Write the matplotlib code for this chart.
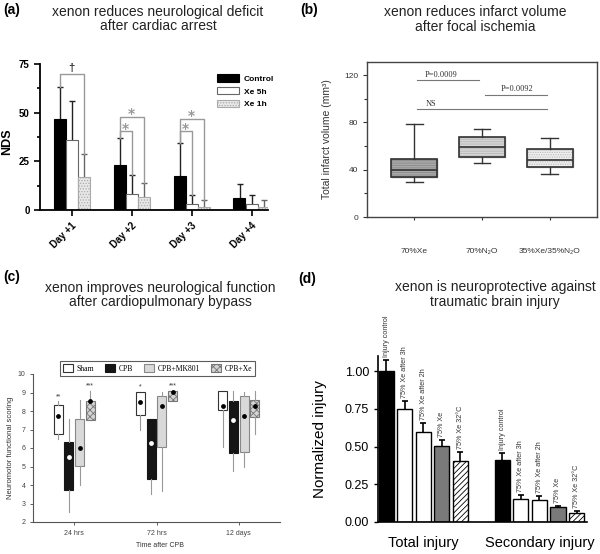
import numpy as np
import matplotlib
matplotlib.use('Agg')
import matplotlib.pyplot as plt
from matplotlib.patches import Patch, PathPatch

plt.rcParams['font.family'] = ['Liberation Sans', 'DejaVu Sans']
plt.rcParams['hatch.linewidth'] = 0.6

# (a) neurological deficit score after cardiac arrest
days = ['Day +1', 'Day +2', 'Day +3', 'Day +4']
nds_control = [47, 23, 17.5, 6]
nds_control_err = [16, 14, 17, 7.5]
nds_xe5h = [36, 8, 3, 3]
nds_xe5h_err = [20, 10, 4.5, 4.5]
nds_xe1h = [17, 6.5, 1.5, 1.5]
nds_xe1h_err = [12, 7.5, 3.5, 3.5]
# (day, series a, series b, bracket height, symbol)
nds_brackets = [(0, 0, 2, 70, '†'), (1, 0, 2, 48, '*'), (1, 0, 1, 40.5, '*'),
                (2, 0, 2, 47, '*'), (2, 0, 1, 40.5, '*')]

# (b) infarct volume after focal ischemia
gases = ['70%Xe', '70%N₂O', '35%Xe/35%N₂O']
infarct_low = [30, 46, 36]
infarct_q1 = [33.5, 51, 42]
infarct_med = [40, 59, 48]
infarct_q3 = [49, 68, 57.5]
infarct_high = [79, 74.5, 67]
infarct_pvals = [(0, 1, 116, 'P=0.0009', 0.4), (1, 2, 103.5, 'P=0.0092', 1.52), (0, 2, 91, 'NS', 0.24)]

# (c) neuromotor scoring after CPB, rows = time points, cols = groups
times = ['24 hrs', '72 hrs', '12 days']
cpb_groups = ['Sham', 'CPB', 'CPB+MK801', 'CPB+Xe']
score_whislo = [[6.5, 2.55, 4.0, 7.5], [7.0, 3.5, 3.7, 8.55], [6.05, 4.75, 5.0, 6.75]]
score_q1 = [[6.75, 3.75, 5.05, 7.5], [7.8, 4.3, 6.05, 8.55], [8.05, 5.75, 5.78, 7.65]]
score_q3 = [[8.3, 6.3, 7.55, 8.55], [9.05, 7.55, 8.8, 9.1], [9.1, 8.55, 8.8, 8.6]]
score_whishi = [[8.55, 7.55, 8.6, 9.1], [9.05, 7.55, 9.05, 9.1], [9.1, 9.1, 9.05, 9.1]]
score_mean = [[7.75, 5.5, 6.0, 8.55], [8.5, 6.25, 8.25, 9.05], [8.25, 7.5, 7.75, 8.25]]
score_stars = [['**', '', '', '***'], ['*', '', '', '***'], ['', '', '', '']]

# (d) traumatic brain injury
injury_groups = ['Total injury', 'Secondary injury']
treatments = ['Injury control', '75% Xe after 3h', '75% Xe after 2h', '75% Xe', '75% Xe 32°C']
total_injury = [1.00, 0.75, 0.597, 0.503, 0.405]
total_err = [0.073, 0.05, 0.06, 0.043, 0.06]
secondary_injury = [0.412, 0.155, 0.143, 0.098, 0.062]
secondary_err = [0.046, 0.026, 0.026, 0.01, 0.012]


def px(x, y):
    return x / 600, 1 - y / 554


def upper_errorbar(ax, xs, ys, errs, color='black', lw=1, cap=2.5):
    cont = ax.errorbar(xs, ys, yerr=[np.zeros(len(errs)), errs], fmt='none',
                       ecolor=color, elinewidth=lw, capsize=cap, capthick=lw, zorder=1)
    for cl in cont[1]:
        if np.allclose(cl.get_ydata(), ys):
            cl.set_visible(False)


fig = plt.figure(figsize=(6, 5.54), dpi=100)

# ---------- (a)
ax = fig.add_axes([40 / 600, 1 - 210 / 554, 228 / 600, 146 / 554])
x = np.arange(len(days))
w = 0.2
series = [(nds_control, nds_control_err, 'black', 'black', None),
          (nds_xe5h, nds_xe5h_err, 'white', '#666666', None),
          (nds_xe1h, nds_xe1h_err, '#e8e8e8', '#aaaaaa', '......')]
for i, (vals, errs, fc, ec, hatch) in enumerate(series):
    pos = x + (i - 1) * w
    ax.bar(pos, vals, w, color=fc, edgecolor=ec, hatch=hatch, linewidth=0.8, zorder=2)
    upper_errorbar(ax, pos, vals, errs, color='#222222' if i < 2 else '#666666')
tops = [np.add(nds_control, nds_control_err), np.add(nds_xe5h, nds_xe5h_err), np.add(nds_xe1h, nds_xe1h_err)]
for day, a, b, h, sym in nds_brackets:
    xa = day + (a - 1) * w
    xb = day + (b - 1) * w
    ax.plot([xa, xa, xb, xb], [tops[a][day], h, h, tops[b][day]], color='#999999', lw=1, zorder=3)
    if sym == '†':
        ax.text((xa + xb) / 2, h + 0.5, sym, ha='center', va='bottom', fontsize=8, color='#333333',
                fontweight='bold')
    else:
        ax.text((xa + xb) / 2, h - 2.5, sym, ha='center', va='bottom', fontsize=10, color='#999999',
                family='DejaVu Sans', fontweight='bold')
ax.set_xlim(-0.525, 3.275)
ax.set_ylim(0, 75)
ax.set_yticks([0, 25, 50, 75])
ax.set_yticks([12.5, 37.5, 62.5], minor=True)
ax.set_xticks(x, days, rotation=45, ha='right', rotation_mode='anchor')
for lab in ax.get_xticklabels() + ax.get_yticklabels():
    lab.set_fontweight('bold')
    lab.set_fontsize(7)
ax.tick_params(width=1.2, length=4)
ax.tick_params(which='minor', width=1.2, length=2.5)
for s in ['top', 'right']:
    ax.spines[s].set_visible(False)
for s in ['left', 'bottom']:
    ax.spines[s].set_linewidth(1.3)
ax.set_ylabel('NDS', fontsize=9, fontweight='bold')
ax.yaxis.set_label_coords(-0.118, 0.47)
handles = [Patch(facecolor=fc, edgecolor=ec, hatch=h, linewidth=0.8) for _, _, fc, ec, h in series]
ax.legend(handles, ['Control', 'Xe 5h', 'Xe 1h'], loc='upper left', bbox_to_anchor=px(213, 70),
          bbox_transform=fig.transFigure, frameon=False, prop=dict(weight='bold', size=6),
          handlelength=2.6, handleheight=1.0, labelspacing=0.5, borderpad=0, handletextpad=0.6)

# ---------- (b)
ax = fig.add_axes([367 / 600, 1 - 217 / 554, 230 / 600, 155 / 554])
stats = [dict(whislo=lo, q1=q1, med=m, q3=q3, whishi=hi, label=g)
         for g, lo, q1, m, q3, hi in zip(gases, infarct_low, infarct_q1, infarct_med, infarct_q3, infarct_high)]
bp = ax.bxp(stats, positions=range(3), widths=0.68, patch_artist=True, showfliers=False,
            capwidths=0.25, whiskerprops=dict(color='#333333', lw=1), capprops=dict(color='#333333', lw=1),
            medianprops=dict(color='#333333', lw=1.2))
fills = [('#a9a9a9', '#8a8a8a', '-------'), ('#d6d6d6', '#b8b8b8', '-------'), ('#eeeeee', '#bbbbbb', '.......')]
for box, (fc, hc, hatch) in zip(bp['boxes'], fills):
    box.set_facecolor(fc)
    box.set_edgecolor(hc)
    box.set_hatch(hatch)
    ax.add_patch(PathPatch(box.get_path(), transform=box.get_transform(), fill=False,
                           edgecolor='#333333', lw=1.2, zorder=box.get_zorder() + 0.1))
for i, j, h, txt, tx in infarct_pvals:
    ax.plot([i + 0.04, j - 0.04], [h, h], color='#777777', lw=0.8)
    ax.text(tx, h + 1, txt, ha='center', va='bottom', fontsize=6, family='Liberation Serif', color='#333333')
ax.set_xlim(-0.7, 2.7)
ax.set_ylim(0, 131)
ax.set_yticks([0, 40, 80, 120])
ax.set_yticks([20, 60, 100], minor=True)
ax.set_xticks(range(3), gases)
ax.tick_params(labelsize=6, length=3, width=0.8, colors='#333333')
ax.tick_params(axis='x', length=2, pad=20)
ax.tick_params(which='minor', length=2, width=0.8, colors='#333333')
for s in ax.spines.values():
    s.set_color('#444444')
    s.set_linewidth(1)
ax.set_ylabel('Total infarct volume (mm³)', fontsize=7.5, color='#333333')
ax.yaxis.set_label_coords(-0.152, 0.5)

# ---------- (c)
ax = fig.add_axes([33 / 600, 1 - 522 / 554, 247 / 600, 148 / 554])
offsets = [-0.195, -0.065, 0.065, 0.195]
styles = [('white', '#333333', None), ('#151515', '#151515', None),
          ('#d9d9d9', '#888888', None), ('#d4d4d4', '#777777', 'xxxxx')]
dot_colors = ['black', 'white', 'black', 'black']
t = np.arange(len(times))
for g, (fc, ec, hatch) in enumerate(styles):
    st = [dict(whislo=score_whislo[k][g], q1=score_q1[k][g], med=score_q1[k][g],
               q3=score_q3[k][g], whishi=score_whishi[k][g]) for k in range(len(times))]
    bp = ax.bxp(st, positions=t + offsets[g], widths=0.11, patch_artist=True, showfliers=False,
                showcaps=False, whiskerprops=dict(color='#999999', lw=0.8),
                medianprops=dict(linewidth=0), manage_ticks=False)
    for box in bp['boxes']:
        box.set_facecolor(fc)
        box.set_edgecolor(ec)
        box.set_linewidth(0.8)
        if hatch:
            box.set_hatch(hatch)
    ax.scatter(t + offsets[g], [score_mean[k][g] for k in range(len(times))], s=12,
               color=dot_colors[g], zorder=5, linewidths=0)
    for k in range(len(times)):
        if score_stars[k][g]:
            ax.text(t[k] + offsets[g], score_whishi[k][g] + 0.05, score_stars[k][g], ha='center',
                    va='bottom', fontsize=5, color='#333333')
ax.set_xlim(-0.5, 2.5)
ax.set_ylim(2, 10)
ax.set_yticks(range(2, 11))
ax.set_xticks(t, times)
ax.tick_params(labelsize=5, length=2, width=0.6, colors='#444444')
for s in ['top', 'right']:
    ax.spines[s].set_visible(False)
for s in ['left', 'bottom']:
    ax.spines[s].set_color('#555555')
    ax.spines[s].set_linewidth(0.8)
ax.set_ylabel('Neuromotor functional scoring', fontsize=5.5, color='#333333')
ax.yaxis.set_label_coords(-0.075, 0.5)
ax.set_xlabel('Time after CPB', fontsize=5, color='#333333')
ax.xaxis.set_label_coords(0.514, -0.135)
handles = [Patch(facecolor=fc, edgecolor=ec, hatch=h, linewidth=0.8) for fc, ec, h in styles]
leg = ax.legend(handles, cpb_groups, ncol=4, loc='center', bbox_to_anchor=px(157.5, 368.5),
                bbox_transform=fig.transFigure, fancybox=False, edgecolor='#333333',
                prop=dict(family='Liberation Serif', size=5.5), handlelength=1.3, handleheight=1.3,
                columnspacing=1.4, handletextpad=0.5, borderpad=0.35)
leg.get_frame().set_linewidth(0.8)

# ---------- (d)
ax = fig.add_axes([378 / 600, 1 - 522 / 554, 209 / 600, 166 / 554])
xg = np.arange(len(injury_groups))
bw = 0.13
fills_d = [('black', None), ('white', None), ('white', None), ('#7a7a7a', None), ('white', '//////')]
for i, (fc, hatch) in enumerate(fills_d):
    pos = xg + (i - 2) * 0.16
    vals = [total_injury[i], secondary_injury[i]]
    errs = [total_err[i], secondary_err[i]]
    ax.bar(pos, vals, bw, color=fc, edgecolor='black', hatch=hatch, linewidth=1, zorder=2)
    upper_errorbar(ax, pos, vals, errs, color='black', lw=1.2, cap=2.5)
    for p, v, e in zip(pos, vals, errs):
        ax.text(p, v + e + 0.02, treatments[i], rotation=90, ha='center', va='bottom', fontsize=5.2,
                color='#333333', clip_on=False)
ax.set_xlim(-0.39, 1.41)
ax.set_ylim(0, 1.1)
ax.set_yticks(np.arange(0, 1.01, 0.25))
ax.yaxis.set_major_formatter('{x:.2f}')
ax.set_xticks(xg, injury_groups)
ax.tick_params(axis='y', labelsize=9, length=3, width=1)
ax.tick_params(axis='x', labelsize=10.5, length=0, pad=10)
for s in ['top', 'right']:
    ax.spines[s].set_visible(False)
for s in ['left', 'bottom']:
    ax.spines[s].set_linewidth(1.2)
ax.set_ylabel('Normalized injury', fontsize=11)
ax.yaxis.set_label_coords(-0.244, 0.5)

# titles and panel letters
titles = [(158, 19, 'xenon reduces neurological deficit\nafter cardiac arrest'),
          (475, 19.5, 'xenon reduces infarct volume\nafter focal ischemia'),
          (160, 295, 'xenon improves neurological function\nafter cardiopulmonary bypass'),
          (495, 294.5, 'xenon is neuroprotective against\ntraumatic brain injury')]
for tx, ty, txt in titles:
    fig.text(*px(tx, ty), txt, ha='center', va='center', fontsize=10, linespacing=1.05, color='#222222')
for lx, ly, lab in [(3, 10, '(a)'), (300, 10, '(b)'), (3, 277, '(c)'), (298, 279, '(d)')]:
    fig.text(*px(lx, ly), lab, ha='left', va='center', fontsize=10, fontweight='bold')

fig.savefig('out.png', dpi=100)
